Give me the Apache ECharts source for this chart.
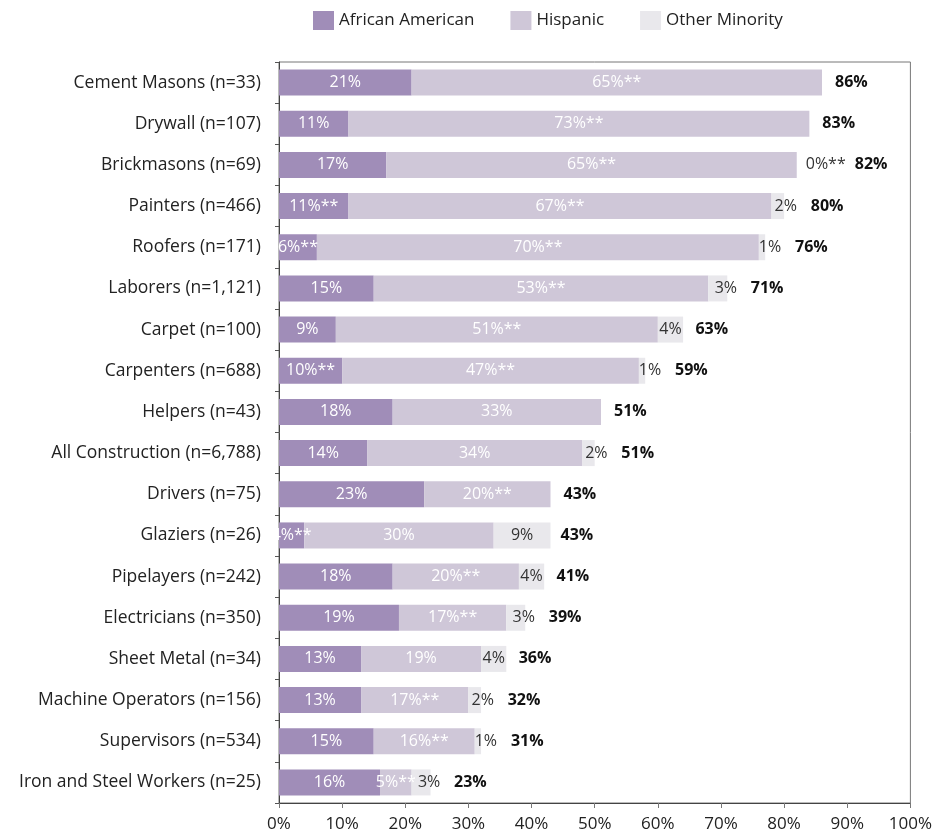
<!DOCTYPE html>
<html>
<head>
<meta charset="utf-8">
<script src="https://cdn.jsdelivr.net/npm/echarts@6/dist/echarts.min.js"></script>
<style>
  html, body { margin: 0; padding: 0; background: #fff; }
  #chart { width: 935px; height: 840px; }
</style>
</head>
<body>
<div id="chart"></div>
<script>
// categories, top to bottom
const categories = [
  "Cement Masons (n=33)", "Drywall (n=107)", "Brickmasons (n=69)", "Painters (n=466)",
  "Roofers (n=171)", "Laborers (n=1,121)", "Carpet (n=100)", "Carpenters (n=688)",
  "Helpers (n=43)", "All Construction (n=6,788)", "Drivers (n=75)", "Glaziers (n=26)",
  "Pipelayers (n=242)", "Electricians (n=350)", "Sheet Metal (n=34)",
  "Machine Operators (n=156)", "Supervisors (n=534)", "Iron and Steel Workers (n=25)"
];
const africanAmerican = [21, 11, 17, 11, 6, 15, 9, 10, 18, 14, 23, 4, 18, 19, 13, 13, 15, 16];
const hispanic = [65, 73, 65, 67, 70, 53, 51, 47, 33, 34, 20, 30, 20, 17, 19, 17, 16, 5];
const otherMinority = [0, 0, 0, 2, 1, 3, 4, 1, 0, 2, 0, 9, 4, 3, 4, 2, 1, 3];
const totals = [86, 83, 82, 80, 76, 71, 63, 59, 51, 51, 43, 43, 41, 39, 36, 32, 31, 23];
// ** = significant difference
const aaStars = [0, 0, 0, 1, 1, 0, 0, 1, 0, 0, 0, 1, 0, 0, 0, 0, 0, 0];
const hispStars = [1, 1, 1, 1, 1, 1, 1, 1, 0, 0, 1, 0, 1, 1, 0, 1, 1, 1];
const otherLabels = ["", "", "0%**", "2%", "1%", "3%", "4%", "1%", "", "2%", "", "9%", "4%", "3%", "4%", "2%", "1%", "3%"];
const xTicks = [0, 10, 20, 30, 40, 50, 60, 70, 80, 90, 100];

const FONT = "Open Sans";
const chart = echarts.init(document.getElementById("chart"));
const pxPerPct = (935 - 279 - 23) / 100;

// small "other" segments get their label nudged to the right
function otherOffset(v) {
  return v * pxPerPct < 20 ? 8 : 0;
}

const totalData = totals.map(function (t, i) {
  let dist = 13;
  const lab = otherLabels[i];
  if (lab) {
    const w = lab.length * 11;
    if (otherMinority[i] === 0) {
      dist = w + 14;
    } else {
      const seg = otherMinority[i] * pxPerPct;
      dist = Math.max(10, otherOffset(otherMinority[i]) + w / 2 - seg / 2 + 14);
    }
  }
  return { value: 0, label: { distance: dist } };
});

const inLabel = {
  show: true,
  position: "inside",
  color: "#fff",
  fontFamily: FONT,
  fontSize: 16,
};

const option = {
  animation: false,
  textStyle: { fontFamily: FONT },
  legend: {
    top: 6,
    left: 308,
    icon: "rect",
    itemWidth: 21,
    itemHeight: 19,
    itemGap: 36,
    textStyle: { fontFamily: FONT, fontSize: 17, color: "#222" },
    data: ["African American", "Hispanic", "Other Minority"],
  },
  grid: {
    left: 279,
    right: 23,
    top: 62,
    bottom: 37,
    show: true,
    borderColor: "#777",
    borderWidth: 1,
  },
  xAxis: {
    type: "value",
    min: 0,
    max: 100,
    interval: 10,
    axisLabel: {
      formatter: function (v) { return xTicks.indexOf(v) >= 0 ? v + "%" : ""; },
      color: "#222",
      fontSize: 17,
      margin: 13,
    },
    axisLine: { show: true, lineStyle: { color: "#444" } },
    axisTick: { show: true, length: 5, lineStyle: { color: "#777" } },
    splitLine: { show: false },
  },
  yAxis: {
    type: "category",
    inverse: true,
    data: categories,
    axisLabel: { color: "#222", fontSize: 17.5, margin: 18 },
    axisLine: { show: true, lineStyle: { color: "#444" } },
    axisTick: { show: true, length: 4, lineStyle: { color: "#555" } },
  },
  series: [
    {
      name: "African American",
      type: "bar",
      stack: "all",
      barWidth: 26,
      itemStyle: { color: "#a08db8" },
      label: Object.assign({}, inLabel, {
        formatter: function (p) { return p.value + "%" + (aaStars[p.dataIndex] ? "**" : ""); },
      }),
      data: africanAmerican,
    },
    {
      name: "Hispanic",
      type: "bar",
      stack: "all",
      barWidth: 26,
      itemStyle: { color: "#cfc7d8" },
      label: Object.assign({}, inLabel, {
        formatter: function (p) { return p.value + "%" + (hispStars[p.dataIndex] ? "**" : ""); },
      }),
      data: hispanic,
    },
    {
      name: "Other Minority",
      type: "bar",
      stack: "all",
      barWidth: 26,
      itemStyle: { color: "#e9e8ec" },
      data: otherMinority.map(function (v, i) {
        const lab = otherLabels[i];
        return {
          value: v,
          label: {
            show: lab !== "",
            position: v === 0 ? "right" : "inside",
            distance: 1,
            offset: [otherOffset(v), 0],
            formatter: lab,
            color: "#333",
            fontFamily: FONT,
            fontSize: 16,
          },
        };
      }),
    },
    {
      name: "Total",
      type: "bar",
      stack: "all",
      barWidth: 26,
      itemStyle: { color: "transparent" },
      label: {
        show: true,
        position: "right",
        color: "#111",
        fontWeight: "bold",
        fontFamily: FONT,
        fontSize: 16,
        formatter: function (p) { return totals[p.dataIndex] + "%"; },
      },
      data: totalData,
    },
  ],
};
chart.setOption(option);
</script>
</body>
</html>
